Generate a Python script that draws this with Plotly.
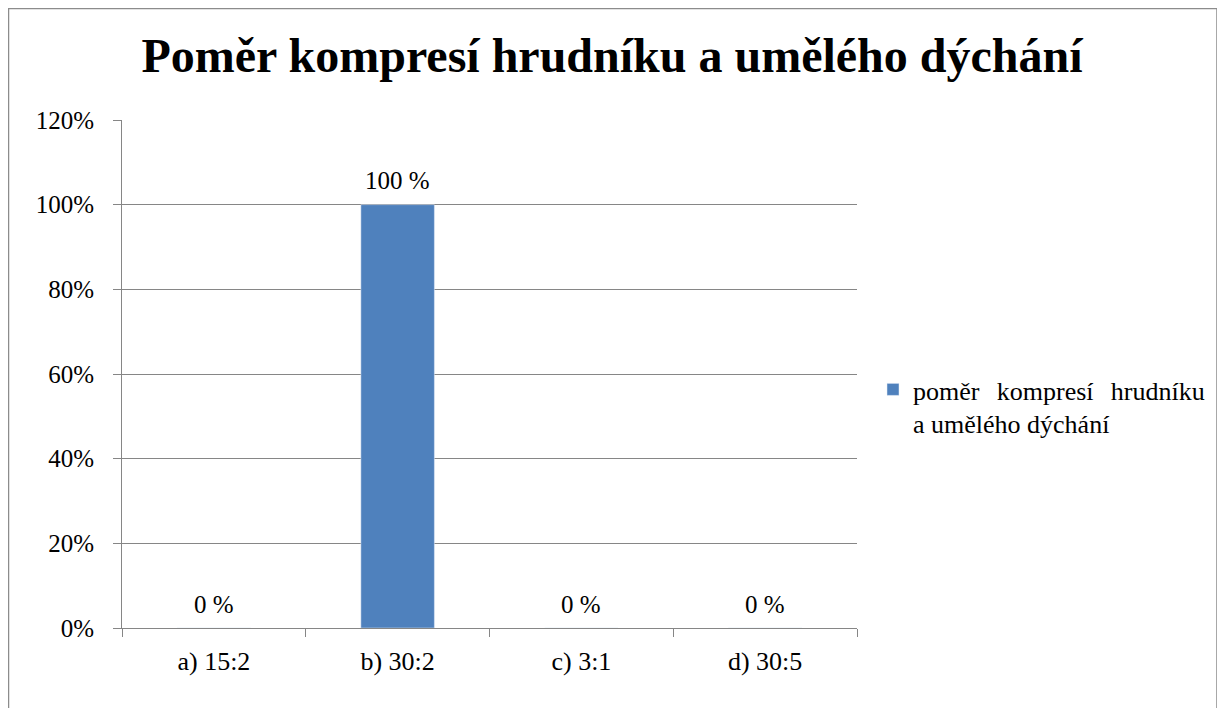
import plotly.graph_objects as go

categories = ['a) 15:2', 'b) 30:2', 'c) 3:1', 'd) 30:5']
values = [0, 100, 0, 0]
series_name = 'poměr\u2002\u2006kompresí\u2002\u2006hrudníku<br>a umělého dýchání'
title_text = 'Poměr kompresí hrudníku a umělého dýchání'

# the page body has an 8px margin, so layout positions are shifted by it
W, H = 1225, 708
OFF = 8
L, R, T, B = 122 - OFF, 1225 - 857 + OFF, 120 - OFF, 708 - 628 + OFF
grid = '#868686'
font = 'Liberation Serif, Times New Roman, serif'

fig = go.Figure()
fig.add_trace(go.Bar(
    x=categories,
    y=[v / 100 for v in values],
    name=series_name,
    marker_color='#4F81BD',
    width=0.4,
    showlegend=True,
))

for cat, v in zip(categories, values):
    fig.add_annotation(x=cat, y=v / 100, text=f'{v} %', showarrow=False,
                       yanchor='middle', yshift=24,
                       font=dict(size=25, color='black', family=font))

pw, ph = W - L - R, H - T - B


def px_to_paper(x, y):
    # screen pixel -> paper coords
    x, y = x - OFF, y - OFF
    return (x - L) / pw, (H - B - y) / ph


bx0, by0 = px_to_paper(8.5, 740)
bx1, by1 = px_to_paper(1217, 8.5)
fig.add_shape(type='rect', xref='paper', yref='paper',
              x0=bx0, y0=by0, x1=bx1, y1=by1,
              line=dict(color='#8c8c8c', width=1.5), layer='below')

lx, ly = px_to_paper(873, 366)
fig.update_layout(
    width=W, height=H,
    margin=dict(l=L, r=R, t=T, b=B),
    paper_bgcolor='white',
    plot_bgcolor='white',
    font=dict(family=font, size=25, color='black'),
    title=dict(text=title_text, x=(612 - OFF) / W, xanchor='center', y=1 - 47 / H, yanchor='middle',
               font=dict(size=48, family=font, color='black', weight='bold')),
    legend=dict(x=lx, y=ly, xanchor='left', yanchor='top', valign='top',
                font=dict(size=26, family=font, color='black'),
                itemwidth=30, bgcolor='rgba(0,0,0,0)'),
    bargap=0.6,
)
fig.update_yaxes(range=[0, 1.2], dtick=0.2, tickformat='.0%',
                 showgrid=True, gridcolor=grid, gridwidth=1,
                 showline=True, linecolor=grid, linewidth=1,
                 ticks='outside', ticklen=8, tickcolor=grid,
                 tickfont=dict(size=25), ticklabelstandoff=14,
                 zeroline=False)
fig.update_xaxes(showline=True, linecolor=grid, linewidth=1,
                 ticks='outside', ticklen=8, tickcolor=grid, tickson='boundaries',
                 tickfont=dict(size=26), ticklabelstandoff=10)

fig.write_html('out.html')
